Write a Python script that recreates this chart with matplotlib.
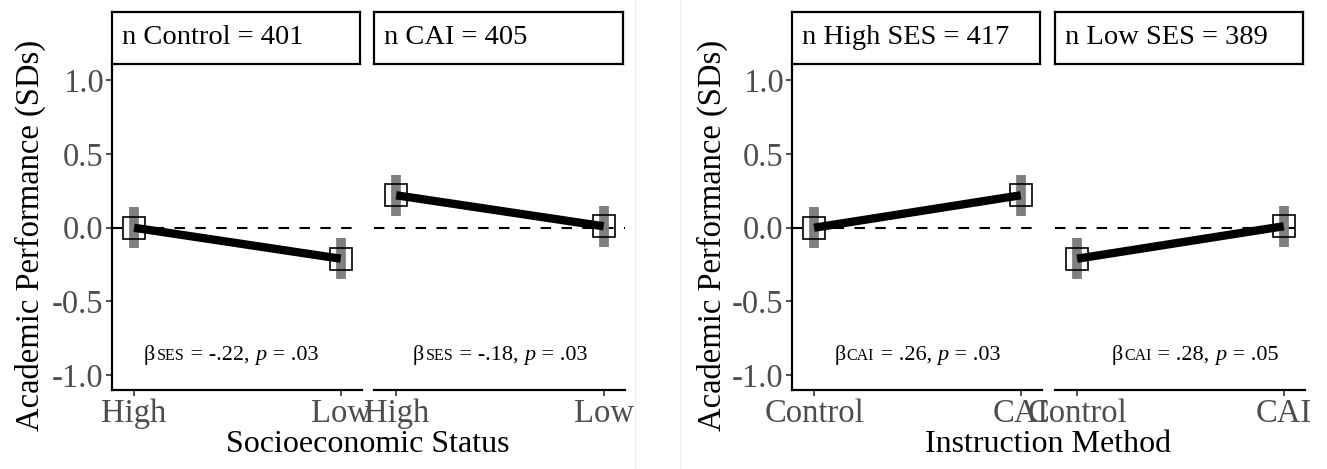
import numpy as np
import matplotlib.pyplot as plt
from matplotlib.lines import Line2D
from matplotlib.offsetbox import TextArea, HPacker, AnnotationBbox

plt.rcParams['font.family'] = ['Liberation Serif', 'DejaVu Serif']

# data: mean academic performance (SDs) by instruction method and SES
ses_levels = ['High', 'Low']
method_levels = ['Control', 'CAI']
mean_control = [0.00, -0.21]   # High SES, Low SES
mean_cai = [0.22, 0.01]
ci_control = [0.14, 0.14]
ci_cai = [0.14, 0.14]

n_control = 401
n_cai = 405
n_high = 417
n_low = 389

beta_ses = ['-.22', '-.18']
p_ses = ['.03', '.03']
beta_cai = ['.26', '.28']
p_cai = ['.03', '.05']

W, H = 1327, 469
fig = plt.figure(figsize=(W / 100, H / 100), dpi=100)

TICK_COL = '#4D4D4D'
BAR_COL = '#7F7F7F'


def px_axes(x0, x1, y0, y1):
    return fig.add_axes([x0 / W, (H - y1) / H, (x1 - x0) / W, (y1 - y0) / H])


def beta_label(ax, x, y, sub, b, p):
    parts = [TextArea('β', textprops=dict(size=16)),
             TextArea(sub, textprops=dict(size=11.5)),
             TextArea('\u2009= ' + b + ',\u2009', textprops=dict(size=16)),
             TextArea('p', textprops=dict(size=16, style='italic')),
             TextArea('\u2009= ' + p, textprops=dict(size=16))]
    box = HPacker(children=parts, align='baseline', pad=0, sep=1)
    ab = AnnotationBbox(box, (x, y), xycoords='data', frameon=False,
                        box_alignment=(0.5, 0.5))
    ax.add_artist(ab)


def panel(x0, x1, means, cis, labels, strip, first, sub, b, p, lab_x):
    ax = px_axes(x0, x1, 64, 390)
    xs = np.arange(len(means))
    means = np.array(means)
    cis = np.array(cis)
    ax.axhline(0, color='black', lw=1.5, ls=(0, (5, 5)), zorder=1)
    ax.vlines(xs, means - cis, means + cis, color=BAR_COL, lw=7, zorder=2)
    ax.plot(xs, means, ls='none', marker='s', ms=16.5, mfc='none',
            mec='black', mew=1.2, zorder=3)
    ax.plot(xs, means, color='black', lw=6, solid_capstyle='butt', zorder=4)
    ax.set_xlim(-0.107, 1.103)
    ax.set_ylim(-1.1, 1.11)
    ax.set_xticks(xs)
    ax.set_xticklabels(labels)
    ax.spines['top'].set_visible(False)
    ax.spines['right'].set_visible(False)
    ax.spines['bottom'].set_linewidth(1.6)
    ax.spines['left'].set_linewidth(1.6)
    ax.tick_params(axis='both', labelsize=23.5, labelcolor=TICK_COL,
                   length=4, width=1.2, color='#333333', pad=2)
    if first:
        ax.set_yticks([-1.0, -0.5, 0.0, 0.5, 1.0])
        ax.set_yticklabels(['-1.0', '-0.5', '0.0', '0.5', '1.0'])
    else:
        ax.spines['left'].set_visible(False)
        ax.set_yticks([])
    beta_label(ax, lab_x, -0.86, sub, b, p)

    sx = px_axes(x0, x1 - 2, 12, 64)
    sx.set_xticks([])
    sx.set_yticks([])
    for s in sx.spines.values():
        s.set_linewidth(1.6)
    sx.text(0.04, 0.5, strip, transform=sx.transAxes, ha='left', va='center',
            size=20.5)
    return ax


# left figure: SES on x axis, faceted by instruction method
panel(112, 362, mean_control, ci_control, ses_levels,
      'n Control = %d' % n_control, True, 'SES', beta_ses[0], p_ses[0], 0.47)
panel(374, 625, mean_cai, ci_cai, ses_levels,
      'n CAI = %d' % n_cai, False, 'SES', beta_ses[1], p_ses[1], 0.50)

# right figure: instruction method on x axis, faceted by SES
high_means = [mean_control[0], mean_cai[0]]
low_means = [mean_control[1], mean_cai[1]]
high_cis = [ci_control[0], ci_cai[0]]
low_cis = [ci_control[1], ci_cai[1]]
panel(792, 1042, high_means, high_cis, method_levels,
      'n High SES = %d' % n_high, True, 'CAI', beta_cai[0], p_cai[0], 0.50)
panel(1055, 1305, low_means, low_cis, method_levels,
      'n Low SES = %d' % n_low, False, 'CAI', beta_cai[1], p_cai[1], 0.57)

# axis titles
fig.text(30 / W, (H - 235) / H, 'Academic Performance (SDs)', rotation=90,
         ha='center', va='center', size=23.5)
fig.text(712 / W, (H - 235) / H, 'Academic Performance (SDs)', rotation=90,
         ha='center', va='center', size=23.5)
fig.text(368 / W, (H - 444) / H, 'Socioeconomic Status', ha='center',
         va='center', size=23)
fig.text(1048 / W, (H - 444) / H, 'Instruction Method', ha='center',
         va='center', size=23)

# faint borders between the two pasted images
for xp in (635, 680):
    fig.add_artist(Line2D([xp / W, xp / W], [0, 1], color='#F0F0F0', lw=0.8))

fig.savefig('out.png', dpi=100)
